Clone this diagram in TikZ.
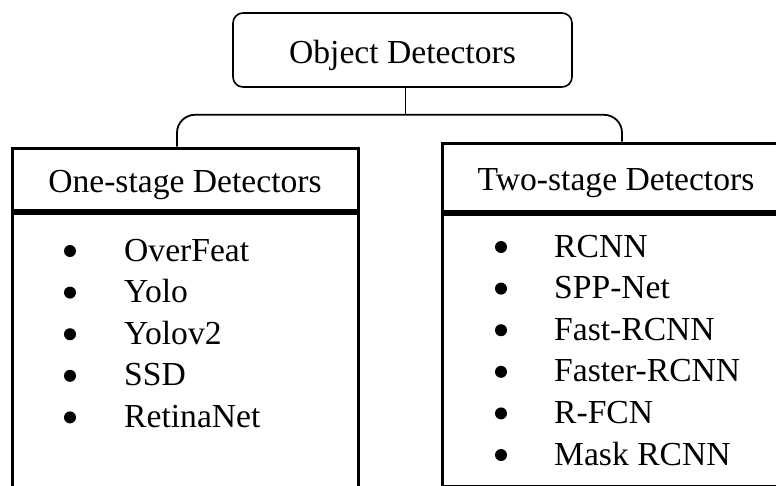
\documentclass[tikz,border=0pt]{standalone}
\usepackage{fontspec}
\setmainfont{Liberation Serif}
\usetikzlibrary{positioning}

\begin{document}
\begin{tikzpicture}[x=1pt, y=-1pt,
  every node/.style={font=\fontsize{33.6}{40}\selectfont},
  rootbox/.style={draw, line width=1.6pt, rounded corners=10pt, inner sep=0pt,
    minimum width=339pt, minimum height=74pt, text height=26pt, text depth=0pt},
  headbox/.style={draw, line width=3pt, inner sep=0pt, text height=26pt, text depth=0pt},
  listbox/.style={draw, line width=3pt, inner sep=0pt, anchor=north},
  dot/.style={circle, fill, inner sep=0pt, minimum size=12pt},
  entry/.style={anchor=base west, inner sep=0pt},
  branch/.style={line width=1.8pt, rounded corners=18pt}]

\newcommand\ROWGAP{41.6}

\path[use as bounding box] (0,0) rectangle (776,485);
\clip (0,0) rectangle (776,485);

%% root
\node[rootbox] (root) at (402.5,50) {Object Detectors};

%% one-stage
\node[headbox, minimum width=346pt, minimum height=62pt] (one) at (185,179)
{One-stage Detectors};
\node[listbox, minimum width=346pt, minimum height=320pt] (onelist) at (one.south) {};

\foreach \name [count=\i] in {OverFeat, Yolo, Yolov2, SSD, RetinaNet}{
  \node[dot] (onedot\i) at (70, 209.4+\ROWGAP*\i) {};
  \node[entry] (oneitem\i) at (124, 219.4+\ROWGAP*\i) {\name};
}

%% two-stage
\node[headbox, minimum width=348pt, minimum height=68pt] (two) at (616,177)
{Two-stage Detectors};
\node[listbox, minimum width=348pt, minimum height=272pt] (twolist) at (two.south) {};

\foreach \name [count=\i] in {RCNN, SPP-Net, Fast-RCNN, Faster-RCNN, R-FCN, Mask RCNN}{
  \node[dot] (twodot\i) at (501, 205.4+\ROWGAP*\i) {};
  \node[entry] (twoitem\i) at (554, 215.4+\ROWGAP*\i) {\name};
}

%% branches
\draw[branch] ([xshift=3pt]root.south) -- ++(0,27) coordinate (fork);
\draw[branch] (fork) -| ([xshift=-8pt]one.north);
\draw[branch] (fork) -| ([xshift=6pt]two.north);
\end{tikzpicture}
\end{document}
